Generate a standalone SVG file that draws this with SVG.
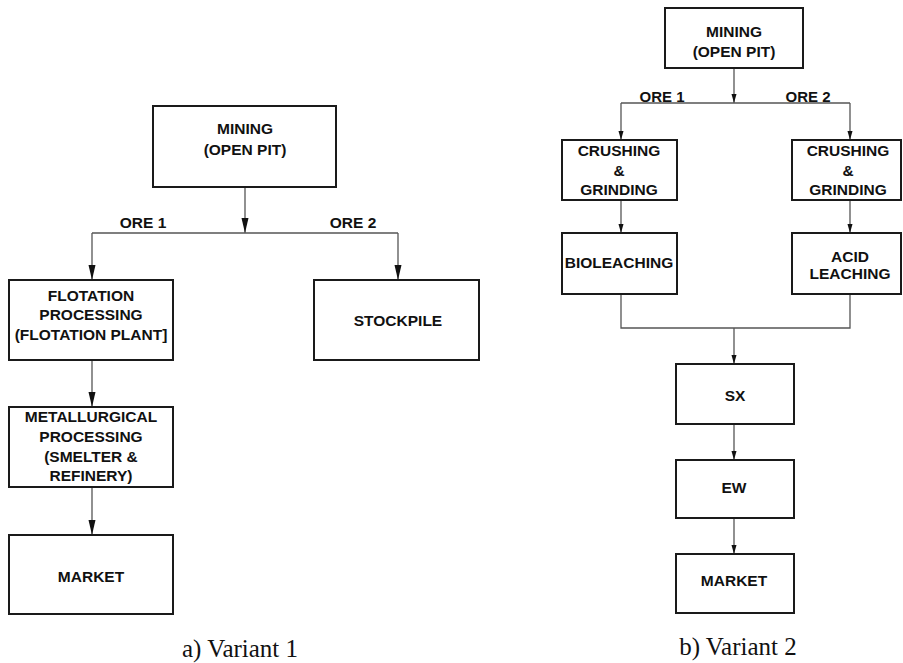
<svg xmlns="http://www.w3.org/2000/svg" width="903" height="663" viewBox="0 0 903 663">
<style>
.box{fill:#fff;stroke:#1a1a1a;stroke-width:2}
.ln{fill:none;stroke:#555;stroke-width:1.3}
.t{font-family:"Liberation Sans",Arial,sans-serif;font-weight:bold;font-size:15.5px;fill:#111;text-anchor:middle}
.ts{font-size:15px}
.cap{font-family:"Liberation Serif","Times New Roman",serif;font-size:25px;fill:#111;text-anchor:middle}
</style>
<defs>
<marker id="aL" markerUnits="userSpaceOnUse" markerWidth="16" markerHeight="8" refX="15" refY="3.5" orient="auto">
<path d="M0,0 L15,3.5 L0,7 z" fill="#111"/>
</marker>
<marker id="aS" markerUnits="userSpaceOnUse" markerWidth="10" markerHeight="6" refX="9" refY="2.5" orient="auto">
<path d="M0,0 L9,2.5 L0,5 z" fill="#111"/>
</marker>
</defs>
<rect width="903" height="663" fill="#fff"/>
<g id="connectors">
<line class="ln" x1="245" y1="187" x2="245" y2="233" marker-end="url(#aL)"/>
<line class="ln" x1="92" y1="233" x2="398" y2="233"/>
<line class="ln" x1="92" y1="233" x2="92" y2="280" marker-end="url(#aL)"/>
<line class="ln" x1="398" y1="233" x2="398" y2="280" marker-end="url(#aL)"/>
<line class="ln" x1="92" y1="360" x2="92" y2="407" marker-end="url(#aL)"/>
<line class="ln" x1="92" y1="487" x2="92" y2="535" marker-end="url(#aL)"/>
<line class="ln" x1="734" y1="68" x2="734" y2="103" marker-end="url(#aS)"/>
<line class="ln" x1="621" y1="103" x2="850" y2="103"/>
<line class="ln" x1="621" y1="103" x2="621" y2="140" marker-end="url(#aS)"/>
<line class="ln" x1="850" y1="103" x2="850" y2="140" marker-end="url(#aS)"/>
<line class="ln" x1="621" y1="200" x2="621" y2="233" marker-end="url(#aS)"/>
<line class="ln" x1="850" y1="200" x2="850" y2="233" marker-end="url(#aS)"/>
<path class="ln" d="M621,294 V328 H850 V294"/>
<line class="ln" x1="734" y1="328" x2="734" y2="364" marker-end="url(#aS)"/>
<line class="ln" x1="734" y1="424" x2="734" y2="460" marker-end="url(#aS)"/>
<line class="ln" x1="734" y1="518" x2="734" y2="554" marker-end="url(#aS)"/>
<text class="t" x="143" y="228">ORE 1</text>
<text class="t" x="353" y="228">ORE 2</text>
<text class="t ts" x="662" y="102">ORE 1</text>
<text class="t ts" x="808" y="102">ORE 2</text>
</g>
<g id="a-mining">
<rect class="box" x="153" y="106" width="183" height="81"/>
<text class="t" x="245" y="134">MINING</text>
<text class="t" x="245" y="155">(OPEN PIT)</text>
</g>
<g id="a-flotation">
<rect class="box" x="9" y="280" width="164" height="80"/>
<text class="t" x="91" y="301">FLOTATION</text>
<text class="t" x="91" y="320">PROCESSING</text>
<text class="t" x="91" y="340">(FLOTATION PLANT]</text>
</g>
<g id="a-stockpile">
<rect class="box" x="314" y="280" width="165" height="80"/>
<text class="t" x="398" y="326">STOCKPILE</text>
</g>
<g id="a-metallurgical">
<rect class="box" x="9" y="407" width="164" height="80"/>
<text class="t" x="91" y="422">METALLURGICAL</text>
<text class="t" x="91" y="442">PROCESSING</text>
<text class="t" x="91" y="462">(SMELTER &amp;</text>
<text class="t" x="91" y="481">REFINERY)</text>
</g>
<g id="a-market">
<rect class="box" x="9" y="535" width="164" height="79"/>
<text class="t" x="91" y="582">MARKET</text>
</g>
<g id="b-mining">
<rect class="box" x="665" y="8" width="138" height="60"/>
<text class="t" x="734" y="37">MINING</text>
<text class="t" x="734" y="57">(OPEN PIT)</text>
</g>
<g id="b-crushing1">
<rect class="box" x="562" y="140" width="115" height="60"/>
<text class="t" x="619" y="156">CRUSHING</text>
<text class="t" x="619" y="176">&amp;</text>
<text class="t" x="619" y="195">GRINDING</text>
</g>
<g id="b-crushing2">
<rect class="box" x="792" y="140" width="109" height="60"/>
<text class="t" x="848" y="156">CRUSHING</text>
<text class="t" x="848" y="176">&amp;</text>
<text class="t" x="848" y="195">GRINDING</text>
</g>
<g id="b-bioleaching">
<rect class="box" x="562" y="233" width="115" height="61"/>
<text class="t" x="619" y="268">BIOLEACHING</text>
</g>
<g id="b-acid">
<rect class="box" x="792" y="233" width="109" height="61"/>
<text class="t" x="850" y="262">ACID</text>
<text class="t" x="850" y="279">LEACHING</text>
</g>
<g id="b-sx">
<rect class="box" x="676" y="364" width="118" height="60"/>
<text class="t" x="735" y="401">SX</text>
</g>
<g id="b-ew">
<rect class="box" x="676" y="460" width="118" height="58"/>
<text class="t" x="734" y="493">EW</text>
</g>
<g id="b-market">
<rect class="box" x="676" y="554" width="118" height="59"/>
<text class="t" x="734" y="586">MARKET</text>
</g>
<text class="cap" x="240" y="657">a) Variant 1</text>
<text class="cap" x="738" y="655">b) Variant 2</text>
</svg>
